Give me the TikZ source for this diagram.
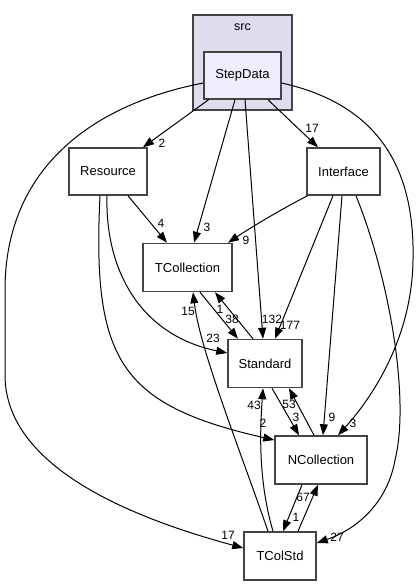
\documentclass[tikz,border=0pt]{standalone}
\usepackage{fontspec}
\setmainfont{Liberation Sans}
\usetikzlibrary{arrows.meta}
\definecolor{clfill}{HTML}{DDDDEE}
\definecolor{sdfill}{HTML}{EEEEFF}
\definecolor{bord}{HTML}{444444}
\begin{document}
\begin{tikzpicture}[x=1pt,y=-1pt,
  box/.style={draw=bord, line width=1.5pt, fill=white, inner sep=0pt,
    minimum height=47pt, font=\fontsize{13}{15}\selectfont},
  e/.style={draw=black, line width=1pt, -{Triangle[length=11pt,width=8pt]}},
  lab/.style={inner sep=0pt, font=\fontsize{12}{14}\selectfont}]
\useasboundingbox (0,0) rectangle (419,585);
% cluster
\node (src) [draw=bord, line width=1.5pt, fill=clfill, minimum width=99pt, minimum height=95pt, inner sep=0pt] at (242.5,62.5) {};
\node (srclab) [lab, font=\fontsize{12.5}{14}\selectfont] at (242.5,27) {src};
% nodes
\node (sd)  [box, fill=sdfill, minimum width=77pt] at (242.5,75.5) {StepData};
\node (res) [box, minimum width=78pt] at (108,171.5) {Resource};
\node (int) [box, minimum width=73pt] at (343.5,171.5) {Interface};
\node (tco) [box, minimum width=89pt, minimum height=48pt] at (187.5,267.5) {TCollection};
\node (std) [box, minimum width=74pt, minimum height=48pt] at (265,363.5) {Standard};
\node (nco) [box, minimum width=92pt, minimum height=48pt] at (321,460) {NCollection};
\node (tcs) [box, minimum width=72pt, minimum height=48pt] at (280,556) {TColStd};
% edges from StepData
\draw[e] ([xshift=-34pt]sd.south) -- ([xshift=35pt]res.north);
\draw[e] ([xshift=25.5pt]sd.south) -- ([xshift=-25.5pt]int.north);
\draw[e] ([xshift=-7.5pt]sd.south) -- ([xshift=6.5pt]tco.north);
\draw[e] ([xshift=2.5pt]sd.south) -- ([xshift=-2pt]std.north);
\draw[e] ([yshift=-7.5pt]sd.east) .. controls (380,105) and (415,170) .. (413,260)
   .. controls (412,340) and (370,400) .. ([xshift=17pt]nco.north);
\draw[e] ([yshift=-7.5pt]sd.west) .. controls (90,105) and (5,170) .. (5,290) -- (5,375)
   .. controls (5,470) and (140,520) .. ([yshift=8pt]tcs.west);
% edges from Resource
\draw[e] ([xshift=20pt]res.south) -- ([xshift=-20.5pt]tco.north);
\draw[e] ([xshift=-1pt]res.south) .. controls (105,270) and (140,335) .. ([yshift=10.5pt]std.west);
\draw[e] ([xshift=-8pt]res.south) .. controls (92,360) and (120,405) .. ([yshift=20pt]nco.west);
% edges from Interface
\draw[e] ([xshift=-36pt]int.south) .. controls (280,210) and (250,228) .. ([xshift=40.5pt]tco.north);
\draw[e] ([xshift=-10.5pt]int.south) -- ([xshift=10pt]std.north);
\draw[e] ([xshift=-1.5pt]int.south) -- ([xshift=2pt]nco.north);
\draw[e] ([xshift=12.5pt]int.south) .. controls (390,280) and (410,400) .. (395,460)
   .. controls (388,500) and (360,528) .. ([yshift=13pt]tcs.east);
% TCollection <-> Standard
\draw[e] ([xshift=12.5pt]tco.south) -- ([xshift=-27pt]std.north);
\draw[e] ([xshift=-12pt]std.north) -- ([xshift=27.5pt]tco.south);
% TColStd up
\draw[e] ([xshift=-12pt]tcs.north) .. controls (240,450) and (200,350) .. ([xshift=5.5pt]tco.south);
\draw[e] ([xshift=-7pt]tcs.north) .. controls (258,480) and (260,430) .. ([xshift=-2pt]std.south);
% Standard <-> NCollection
\draw[e] ([xshift=7pt]std.south) -- ([xshift=-22pt]nco.north);
\draw[e] ([xshift=-7pt]nco.north) -- ([xshift=24pt]std.south);
% NCollection <-> TColStd
\draw[e] ([xshift=-19pt]nco.south) -- ([xshift=3pt]tcs.north);
\draw[e] ([xshift=18pt]tcs.north) -- ([xshift=-3pt]nco.south);
% labels
\node (l1) [lab] at (162,143) {2};
\node (l2) [lab] at (312,128) {17};
\node (l3) [lab] at (161,223) {4};
\node (l4) [lab] at (207,227) {3};
\node (l5) [lab] at (246,240) {9};
\node (l6) [lab] at (188,311) {15};
\node (l7) [lab] at (220,309) {1};
\node (l8) [lab] at (232,319) {38};
\node (l9) [lab] at (272,319) {132};
\node (l10) [lab] at (290,325) {177};
\node (l11) [lab] at (213,338) {23};
\node (l12) [lab] at (254,405) {43};
\node (l13) [lab] at (263,423) {2};
\node (l14) [lab] at (289,404) {53};
\node (l15) [lab] at (296,417) {3};
\node (l16) [lab] at (332,417) {9};
\node (l17) [lab] at (353,423) {3};
\node (l18) [lab] at (303,497) {67};
\node (l19) [lab] at (296,517) {1};
\node (l20) [lab] at (228,535) {17};
\node (l21) [lab] at (337,537) {27};
\end{tikzpicture}
\end{document}
